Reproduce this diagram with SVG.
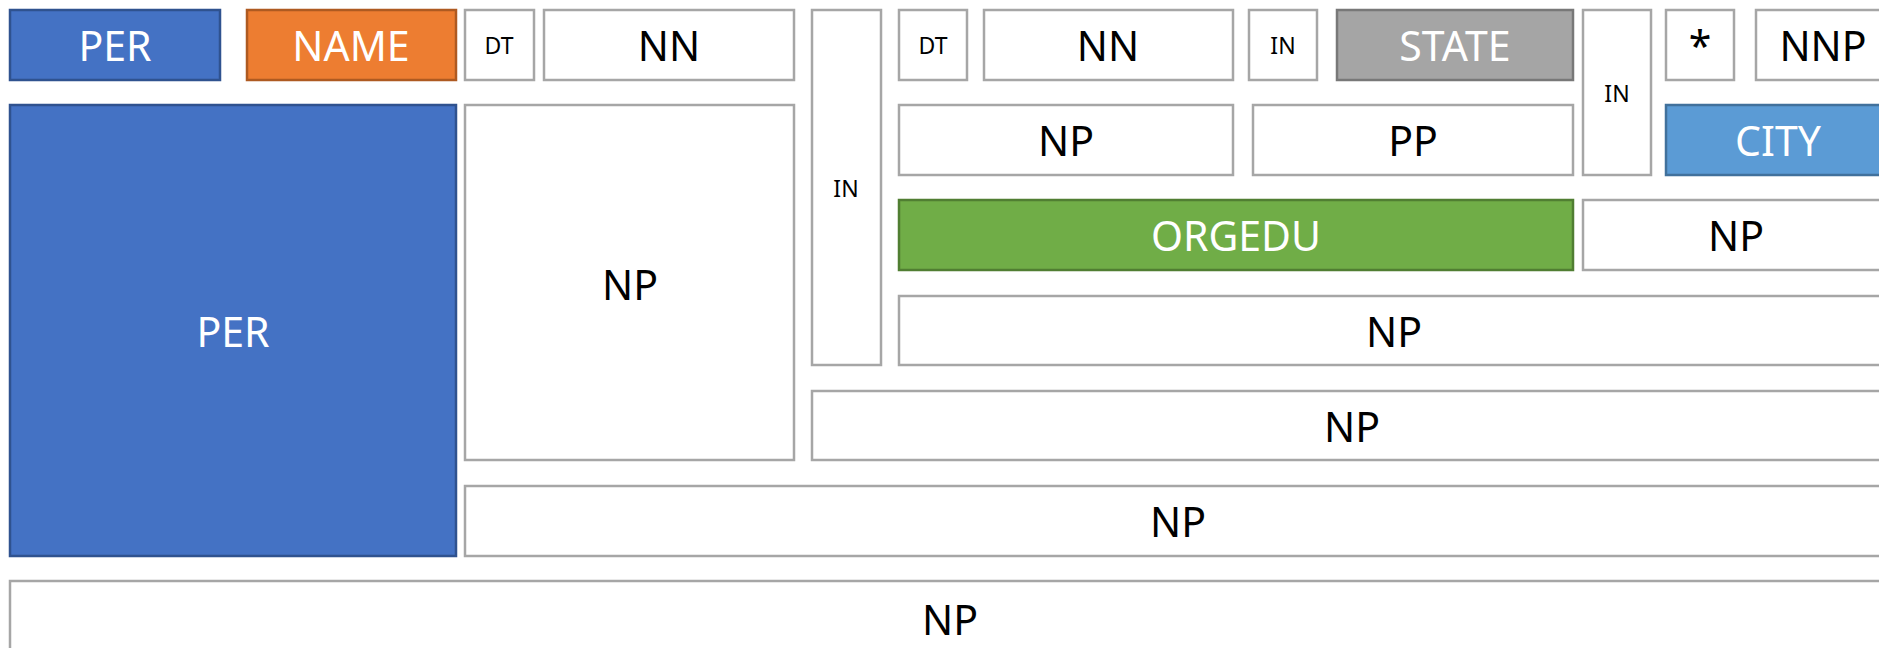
<svg xmlns="http://www.w3.org/2000/svg" width="1879" height="648" viewBox="0 0 1879 648">
  <style>
    rect { stroke-width: 2.5; }
    .plain rect { fill: #ffffff; stroke: #a6a6a6; }
    .per rect { fill: #4472c4; stroke: #2f528f; }
    .name rect { fill: #ed7d31; stroke: #ae5a21; }
    .state rect { fill: #a5a5a5; stroke: #787878; }
    .city rect { fill: #5b9bd5; stroke: #41719c; }
    .org rect { fill: #70ad47; stroke: #507e32; }
    text { font-family: "Noto Sans", "Open Sans", "Liberation Sans", sans-serif; text-anchor: middle; dominant-baseline: central; font-size: 41px; fill: #000000; }
    .small text { font-size: 23px; }
    .per text, .name text, .state text, .city text, .org text { fill: #ffffff; }
  </style>
  <rect width="1879" height="648" fill="#ffffff"/>

  <!-- row 1: word level tags -->
  <g id="per-word" class="per"><rect x="10" y="10" width="210" height="70"/><text x="115" y="45">PER</text></g>
  <g id="name-word" class="name"><rect x="247" y="10" width="209" height="70"/><text x="351" y="45">NAME</text></g>
  <g id="dt-1" class="plain small"><rect x="465" y="10" width="69" height="70"/><text x="499" y="45">DT</text></g>
  <g id="nn-1" class="plain"><rect x="544" y="10" width="250" height="70"/><text x="669" y="45">NN</text></g>
  <g id="in-1" class="plain small"><rect x="812" y="10" width="69" height="355"/><text x="846" y="188">IN</text></g>
  <g id="dt-2" class="plain small"><rect x="899" y="10" width="68" height="70"/><text x="933" y="45">DT</text></g>
  <g id="nn-2" class="plain"><rect x="984" y="10" width="249" height="70"/><text x="1108" y="45">NN</text></g>
  <g id="in-2" class="plain small"><rect x="1249" y="10" width="68" height="70"/><text x="1283" y="45">IN</text></g>
  <g id="state-word" class="state"><rect x="1337" y="10" width="236" height="70"/><text x="1455" y="45">STATE</text></g>
  <g id="in-3" class="plain small"><rect x="1583" y="10" width="68" height="165"/><text x="1617" y="93">IN</text></g>
  <g id="star" class="plain"><rect x="1666" y="10" width="68" height="70"/><text x="1700" y="45">*</text></g>
  <g id="nnp" class="plain"><rect x="1756" y="10" width="134" height="70"/><text x="1823" y="45">NNP</text></g>

  <!-- row 2 -->
  <g id="per-phrase" class="per"><rect x="10" y="105" width="446" height="451"/><text x="233" y="331">PER</text></g>
  <g id="np-1" class="plain"><rect x="465" y="105" width="329" height="355"/><text x="630" y="284">NP</text></g>
  <g id="np-2" class="plain"><rect x="899" y="105" width="334" height="70"/><text x="1066" y="140">NP</text></g>
  <g id="pp-1" class="plain"><rect x="1253" y="105" width="320" height="70"/><text x="1413" y="140">PP</text></g>
  <g id="city" class="city"><rect x="1666" y="105" width="224" height="70"/><text x="1778" y="140">CITY</text></g>

  <!-- row 3 -->
  <g id="orgedu" class="org"><rect x="899" y="200" width="674" height="70"/><text x="1236" y="235">ORGEDU</text></g>
  <g id="np-3" class="plain"><rect x="1583" y="200" width="307" height="70"/><text x="1736" y="235">NP</text></g>

  <!-- rows 4 to 7: enclosing phrases -->
  <g id="np-4" class="plain"><rect x="899" y="296" width="991" height="69"/><text x="1394" y="331">NP</text></g>
  <g id="np-5" class="plain"><rect x="812" y="391" width="1078" height="69"/><text x="1352" y="426">NP</text></g>
  <g id="np-6" class="plain"><rect x="465" y="486" width="1425" height="70"/><text x="1178" y="521">NP</text></g>
  <g id="np-7" class="plain"><rect x="10" y="581" width="1880" height="80"/><text x="950" y="619">NP</text></g>

  <g id="connectors"></g>
</svg>
